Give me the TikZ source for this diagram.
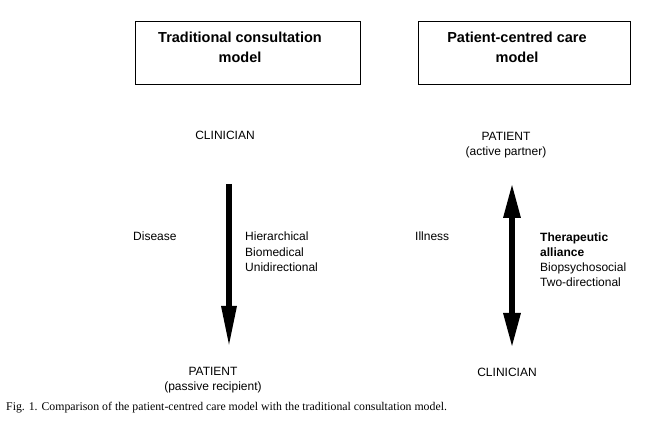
\documentclass[tikz,border=0pt]{standalone}
\usepackage{fontspec}
\setmainfont{Liberation Sans}
\newfontfamily\capfont{Liberation Serif}
\usetikzlibrary{arrows.meta}
\begin{document}
\begin{tikzpicture}[x=1pt,y=-1pt,
  titlebox/.style={draw=black, line width=1pt, minimum width=#1, minimum height=63pt, inner sep=0pt},
  titletext/.style={align=center, inner sep=0pt, font=\fontsize{14.5pt}{20pt}\selectfont\bfseries},
  lbl/.style={inner sep=0pt, font=\fontsize{12pt}{15.3pt}\selectfont},
  bigarrow/.style={line width=6pt, black}
]
\useasboundingbox[fill=white] (0,0) rectangle (656,443);
% title boxes
\node[titlebox=225pt] (box1) at (247.5,53.5) {};
\node[titlebox=212pt] (box2) at (524,53.5) {};
\node[titletext, anchor=base] (t1) at (240,63) {Traditional consultation\\model};
\node[titletext, anchor=base] (t2) at (517,63) {Patient-centred care\\model};
% left column
\node[lbl, anchor=base] (clin1) at (225,140) {CLINICIAN};
\node[lbl, anchor=base, align=center] (pat1) at (213,391) {PATIENT\\(passive recipient)};
\coordinate (a1s) at (229,184);
\coordinate (a1e) at (229,348);
\draw[bigarrow, -{Triangle[length=42pt,width=14pt]}] (a1s) -- (a1e);
\node[lbl, anchor=base west] (dis) at (133,241) {Disease};
\node[lbl, anchor=base west, align=left] (desc1) at (245,271.5) {Hierarchical\\Biomedical\\Unidirectional};
% right column
\node[lbl, anchor=base, align=center] (pat2) at (506,156) {PATIENT\\(active partner)};
\node[lbl, anchor=base] (clin2) at (507,377) {CLINICIAN};
\coordinate (a2s) at (512,183);
\coordinate (a2e) at (512,348);
\draw[bigarrow, {Triangle[length=35pt,width=16pt]}-{Triangle[length=35pt,width=16pt]}] (a2s) -- (a2e);
\node[lbl, anchor=base west] (ill) at (415,241) {Illness};
\node[lbl, anchor=base west, align=left] (desc2) at (540,287) {\textbf{Therapeutic}\\\textbf{alliance}\\Biopsychosocial\\Two-directional};
% caption
\node[inner sep=0pt, anchor=base west, font=\capfont\fontsize{11.8pt}{14pt}\selectfont] (cap) at (6,411) {Fig. 1. Comparison of the patient-centred care model with the traditional consultation model.};
\end{tikzpicture}
\end{document}
